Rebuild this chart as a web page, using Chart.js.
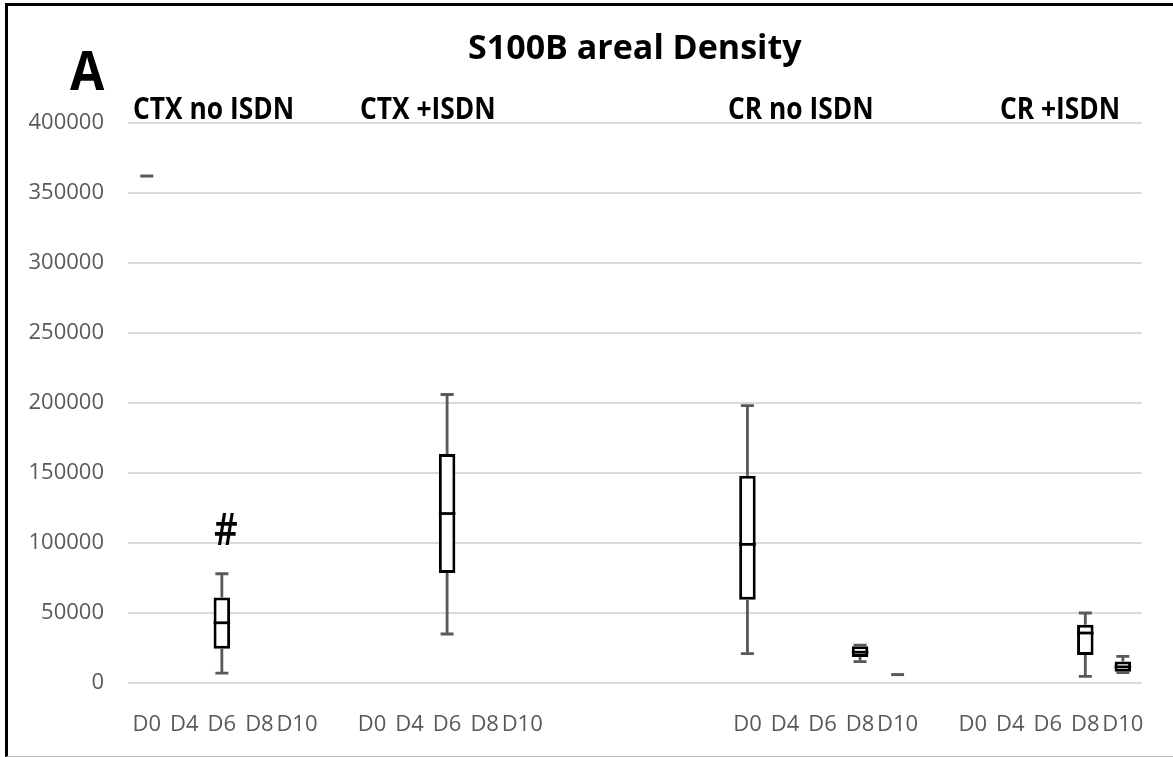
<!DOCTYPE html>
<html>
<head>
<meta charset="utf-8">
<script src="https://cdn.jsdelivr.net/npm/chart.js@4"></script>
<style>
  body { margin: 0; background: #fff; }
  #wrap { position: relative; width: 1173px; height: 757px; }
  #frame { position: absolute; left: 5px; top: 3px; right: 0; bottom: 0;
           border-left: 3px solid #000; border-top: 3px solid #000;
           border-bottom: 1px solid #bfbfbf; pointer-events: none; }
</style>
</head>
<body>
<div id="wrap">
  <canvas id="boxChart"></canvas>
  <div id="frame"></div>
</div>
<script>
// 27 slots: 4 groups of days, with empty slots between groups
var categories = ['D0','D4','D6','D8','D10', '',
                  'D0','D4','D6','D8','D10', '', '', '', '', '',
                  'D0','D4','D6','D8','D10', '',
                  'D0','D4','D6','D8','D10'];
var groupNames = ['CTX no ISDN', 'CTX +ISDN', 'CR no ISDN', 'CR +ISDN'];

var whiskerMin = [362000,null,7000,null,null, null,
                  null,null,35000,null,null, null,null,null,null,null,
                  21000,null,null,15200,6000, null,
                  null,null,null,4700,7500];
var q1 = [362000,null,24500,null,null, null,
          null,null,78500,null,null, null,null,null,null,null,
          59500,null,null,18500,6000, null,
          null,null,null,20000,8000];
var median = [362000,null,43000,null,null, null,
              null,null,121000,null,null, null,null,null,null,null,
              99000,null,null,22000,6000, null,
              null,null,null,35700,11500];
var q3 = [362000,null,61000,null,null, null,
          null,null,163500,null,null, null,null,null,null,null,
          148000,null,null,26300,6000, null,
          null,null,null,41600,15300];
var whiskerMax = [362000,null,78000,null,null, null,
                  null,null,206000,null,null, null,null,null,null,null,
                  198000,null,null,27000,6000, null,
                  null,null,null,50000,19000];
var yTicks = [0, 50000, 100000, 150000, 200000, 250000, 300000, 350000, 400000];
var markSlot = 2, markText = '#';

var FONT = '"Open Sans", sans-serif';

var boxes = q1.map(function (v, i) {
    return (v != null && v !== q3[i]) ? [v, q3[i]] : null;
});

// draw text squeezed horizontally (the original uses a narrow face)
function narrowText(ctx, text, x, y, squeeze) {
    ctx.save();
    ctx.translate(x, y);
    ctx.scale(squeeze, 1);
    ctx.fillText(text, 0, 0);
    ctx.restore();
}

var boxPlot = {
    id: 'boxPlot',
    afterDatasetsDraw: function (chart) {
        var ctx = chart.ctx, x = chart.scales.x, y = chart.scales.y;
        var bars = chart.getDatasetMeta(0).data;
        ctx.save();
        for (var i = 0; i < categories.length; i++) {
            if (whiskerMax[i] == null) continue;
            var cx = x.getPixelForValue(i);
            var cap = 6.5;
            ctx.strokeStyle = '#595959';
            ctx.lineWidth = 2.8;
            if (whiskerMin[i] === whiskerMax[i]) {
                var yv = y.getPixelForValue(whiskerMax[i]);
                ctx.lineWidth = 3;
                ctx.beginPath();
                ctx.moveTo(cx - cap, yv); ctx.lineTo(cx + cap, yv);
                ctx.stroke();
                continue;
            }
            var yMin = y.getPixelForValue(whiskerMin[i]);
            var yQ1 = y.getPixelForValue(q1[i]);
            var yQ3 = y.getPixelForValue(q3[i]);
            var yMax = y.getPixelForValue(whiskerMax[i]);
            ctx.beginPath();
            ctx.moveTo(cx, yMax); ctx.lineTo(cx, yQ3);
            ctx.moveTo(cx, yQ1); ctx.lineTo(cx, yMin);
            ctx.moveTo(cx - cap, yMax); ctx.lineTo(cx + cap, yMax);
            ctx.moveTo(cx - cap, yMin); ctx.lineTo(cx + cap, yMin);
            ctx.stroke();
            // median
            var w = bars[i] ? bars[i].width : 16;
            var yMed = y.getPixelForValue(median[i]);
            ctx.strokeStyle = '#000';
            ctx.lineWidth = 2.8;
            ctx.beginPath();
            ctx.moveTo(cx - w / 2, yMed); ctx.lineTo(cx + w / 2, yMed);
            ctx.stroke();
        }
        // significance mark
        ctx.fillStyle = '#000';
        ctx.font = '600 46px ' + FONT;
        ctx.textAlign = 'center';
        ctx.textBaseline = 'alphabetic';
        narrowText(ctx, markText, x.getPixelForValue(markSlot) + 4,
                   y.getPixelForValue(whiskerMax[markSlot]) - 29, 0.8);
        ctx.restore();
    }
};

var headers = {
    id: 'headers',
    afterDraw: function (chart) {
        var ctx = chart.ctx;
        var xs = [133, 360, 728, 1000];
        ctx.save();
        ctx.fillStyle = '#000';
        ctx.textAlign = 'left';
        ctx.textBaseline = 'alphabetic';
        ctx.font = 'bold 31px ' + FONT;
        groupNames.forEach(function (g, i) { narrowText(ctx, g, xs[i], 119, 0.85); });
        ctx.font = 'bold 54px ' + FONT;
        narrowText(ctx, 'A', 70, 90, 0.92);
        ctx.restore();
    }
};

var ctx = document.getElementById('boxChart').getContext('2d');
var myBoxChart = new Chart(ctx, {
    type: 'bar',
    data: {
        labels: categories,
        datasets: [{
            label: 'S100B',
            data: boxes,
            backgroundColor: '#ffffff',
            borderColor: '#000000',
            borderWidth: 3,
            borderSkipped: false,
            barPercentage: 0.44,
            categoryPercentage: 1
        }]
    },
    options: {
        responsive: true,
        maintainAspectRatio: false,
        animation: false,
        layout: { padding: { left: 26, right: 26.5, top: 0, bottom: 19 } },
        plugins: {
            legend: { display: false },
            tooltip: { enabled: false },
            title: {
                display: true,
                text: 'S100B areal Density',
                color: '#000',
                fullSize: false,
                font: { family: FONT, size: 34, weight: 'bold' },
                padding: { top: 29, bottom: 53 }
            }
        },
        scales: {
            x: {
                afterFit: function (scale) { scale.height = 55; },
                grid: { display: false, drawTicks: false },
                border: { display: false },
                ticks: {
                    autoSkip: false, maxRotation: 0, minRotation: 0,
                    color: '#595959', padding: 29,
                    font: { family: FONT, size: 22 }
                }
            },
            y: {
                min: 0,
                max: 400000,
                afterFit: function (scale) { scale.width = 102; },
                afterBuildTicks: function (scale) {
                    scale.ticks = yTicks.map(function (v) { return { value: v }; });
                },
                grid: { color: '#d9d9d9', lineWidth: 2, drawTicks: false },
                border: { display: false },
                ticks: {
                    color: '#595959', padding: 24,
                    font: { family: FONT, size: 22 },
                    callback: function (v) { return String(v); }
                }
            }
        }
    },
    plugins: [boxPlot, headers]
});
</script>
</body>
</html>
